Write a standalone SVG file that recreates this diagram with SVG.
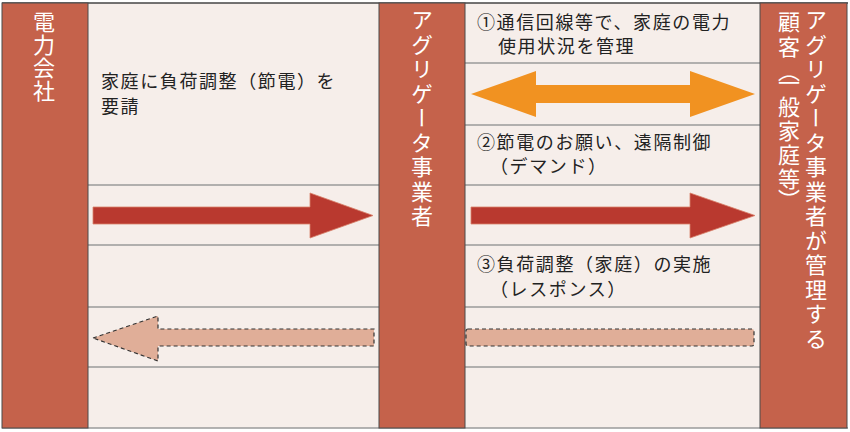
<svg xmlns="http://www.w3.org/2000/svg" width="850" height="432" viewBox="0 0 850 432">
<style>
.panel{fill:#F6EEEA}
.col{fill:#C5624B;stroke:#4a4a4a;stroke-width:1}
.rule{stroke:#9a9a9a;stroke-width:1.6}
.vt{font-family:"Noto Sans CJK JP","Noto Sans CJK SC",sans-serif;font-size:22px;fill:#ffffff;writing-mode:vertical-rl;letter-spacing:2.5px}
.ht{font-family:"Noto Sans CJK JP","Noto Sans CJK SC",sans-serif;font-size:18px;fill:#222222;letter-spacing:1.6px}
.red{fill:#B9392F;stroke:#D8806A;stroke-width:0.8}
.orange{fill:#F19221}
.dash{fill:#E0AE98;stroke:#333333;stroke-width:1.2;stroke-dasharray:4 3}
</style>
<rect x="0" y="0" width="850" height="432" fill="#ffffff"/>
<g id="panels">
<rect class="panel" x="88" y="3" width="291" height="425"/>
<rect class="panel" x="465" y="3" width="295" height="425"/>
<line x1="2" y1="3" x2="848" y2="3" stroke="#444" stroke-width="1.5"/>
<line x1="2" y1="428" x2="848" y2="428" stroke="#9a9a9a" stroke-width="1.6"/>
<line class="rule" x1="88" y1="185" x2="379" y2="185"/>
<line class="rule" x1="88" y1="245" x2="379" y2="245"/>
<line class="rule" x1="88" y1="307" x2="379" y2="307"/>
<line class="rule" x1="88" y1="367" x2="379" y2="367"/>
<line class="rule" x1="465" y1="63" x2="760" y2="63"/>
<line class="rule" x1="465" y1="125" x2="760" y2="125"/>
<line class="rule" x1="465" y1="185" x2="760" y2="185"/>
<line class="rule" x1="465" y1="245" x2="760" y2="245"/>
<line class="rule" x1="465" y1="307" x2="760" y2="307"/>
<line class="rule" x1="465" y1="367" x2="760" y2="367"/>
</g>
<g id="power-company">
<rect class="col" x="2" y="3" width="86" height="425"/>
<text class="vt" x="44" y="11" style="letter-spacing:1px">電力会社</text>
</g>
<g id="aggregator">
<rect class="col" x="379" y="3" width="86" height="425"/>
<text class="vt" x="422" y="9">アグリゲータ事業者</text>
</g>
<g id="customers">
<rect class="col" x="760" y="3" width="87" height="425"/>
<text class="vt" x="816" y="9">アグリゲータ事業者が管理する</text>
<text class="vt" x="789" y="11">顧客</text>
<text class="vt" x="789" y="60">（</text>
<text class="vt" x="789" y="72" style="letter-spacing:2px">一般家庭等</text>
<text class="vt" x="789" y="189">）</text>
</g>
<g id="labels">
<text class="ht" x="101" y="88">家庭に負荷調整（節電）を</text>
<text class="ht" x="101" y="113">要請</text>
<text class="ht" x="477" y="29">①通信回線等で、家庭の電力</text>
<text class="ht" x="498" y="53">使用状況を管理</text>
<text class="ht" x="477" y="149">②節電のお願い、遠隔制御</text>
<text class="ht" x="490" y="173">（デマンド）</text>
<text class="ht" x="477" y="271">③負荷調整（家庭）の実施</text>
<text class="ht" x="490" y="296">（レスポンス）</text>
</g>
<g id="connectors">
<polygon class="orange" points="471,94 536,71 536,85 690,85 690,71 755,94 690,117 690,103 536,103 536,117"/>
<polygon class="red" points="93,207 310,207 310,193 373,215.5 310,238 310,224 93,224"/>
<polygon class="red" points="471,207 690,207 690,193 755,215.5 690,238 690,224 471,224"/>
<polygon class="dash" points="93,338 158,316 158,329 374,329 374,346 158,346 158,361"/>
<rect class="dash" x="466" y="329" width="288" height="17" rx="2"/>
</g>
</svg>
